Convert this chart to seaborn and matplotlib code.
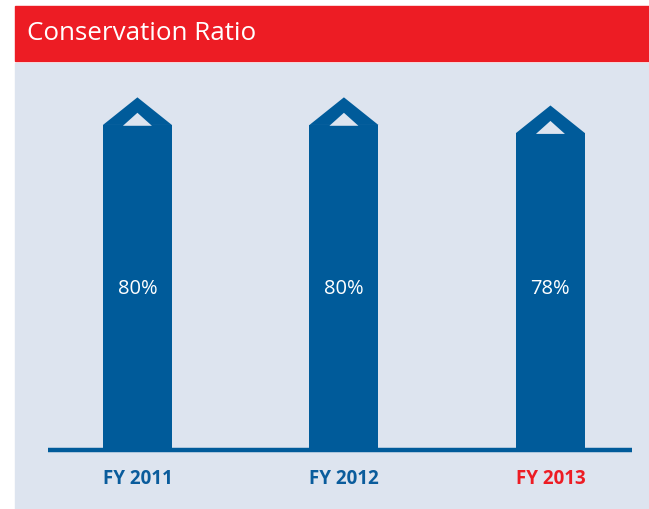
import matplotlib
matplotlib.use('Agg')
import matplotlib.pyplot as plt
import matplotlib.patches as mpatches
import seaborn as sns
import pandas as pd

# Data
years = ['FY 2011', 'FY 2012', 'FY 2013']
ratio = [80, 80, 78]
label_colors = ['#0a5c9c', '#0a5c9c', '#ed1c24']

BLUE = '#005b9a'
PANEL = '#dde4ef'
RED = '#ed1c24'

sns.set_theme(style='white')
plt.rcParams['font.family'] = ['Open Sans', 'DejaVu Sans']

df = pd.DataFrame({'Year': years, 'Ratio': ratio})

fig = plt.figure(figsize=(6.49, 5.10), dpi=100)
fig.patch.set_facecolor('white')
W, H = 649, 510

# header band and light panel (behind the axes)
fig.patches.append(mpatches.Rectangle((15 / W, (H - 62) / H), (W - 15) / W, 55 / H,
                                      transform=fig.transFigure, color=RED, zorder=-2))
fig.patches.append(mpatches.Rectangle((15 / W, 0), (W - 15) / W, (H - 64) / H,
                                      transform=fig.transFigure, color=PANEL, zorder=-2))
fig.text(27 / W, (H - 34) / H, 'Conservation Ratio', color='white', fontsize=18.7,
         va='center', ha='left')

# axes: baseline at y=451, top at y=63
ax = fig.add_axes([48 / W, (H - 451) / H, 584 / W, 388 / H])
ax.set_facecolor('none')
sns.barplot(data=df, x='Year', y='Ratio', color=BLUE, width=0.334, saturation=1,
            linewidth=0, ax=ax)
ax.set_xlim(-0.433, 2.395)
ax.set_ylim(0, 95.5)

# arrow caps and value labels
for p, v in zip(ax.patches, ratio):
    x0, w, h = p.get_x(), p.get_width(), p.get_height()
    xc = x0 + w / 2
    ax.add_patch(mpatches.Polygon([(x0, h), (xc, h + 6.8), (x0 + w, h)],
                                  closed=True, color=BLUE, lw=0, clip_on=False))
    iw = w * 0.21
    ax.add_patch(mpatches.Polygon([(xc - iw, h - 0.2), (xc, h + 3.0), (xc + iw, h - 0.2)],
                                  closed=True, color=PANEL, lw=0, clip_on=False))
    ax.text(xc, 39.8, f'{v}%', color='white', fontsize=14.5, ha='center', va='center')

ax.axhline(0, color=BLUE, lw=3.2, clip_on=False, solid_capstyle='butt')
for s in ax.spines.values():
    s.set_visible(False)
ax.set_yticks([])
ax.set_xlabel('')
ax.set_ylabel('')
ax.tick_params(axis='x', length=0, pad=13)
for t, c in zip(ax.get_xticklabels(), label_colors):
    t.set_color(c)
    t.set_fontweight('bold')
    t.set_fontsize(13.5)

fig.savefig('out.png', dpi=100, facecolor='white')
